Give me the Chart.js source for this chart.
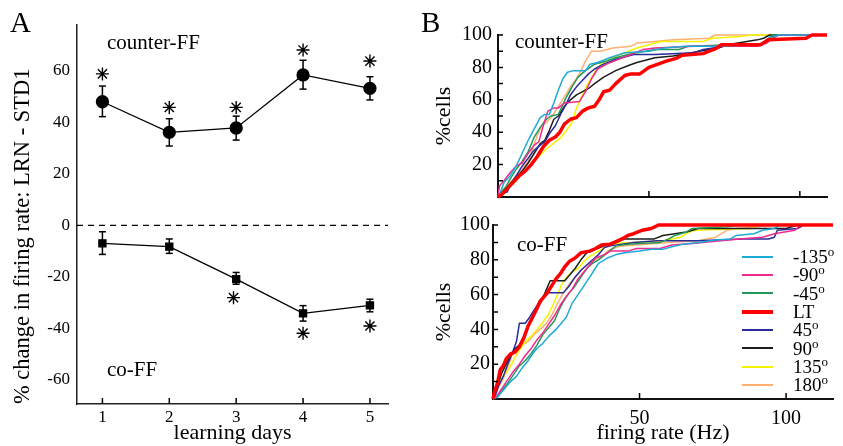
<!DOCTYPE html>
<html><head><meta charset="utf-8">
<script src="https://cdn.jsdelivr.net/npm/chart.js@4.4.1/dist/chart.umd.min.js"></script>
<style>
html,body{margin:0;padding:0;background:#fff;}
#wrap{position:relative;width:843px;height:446px;overflow:hidden;font-family:'Liberation Serif','Times New Roman',serif;color:#000;background:#fff;}
canvas{position:absolute;}
.lbl{position:absolute;white-space:nowrap;line-height:1;}
.legl{position:absolute;left:742px;width:31px;height:0;}
.legt{position:absolute;left:793px;font-size:19px;line-height:1;white-space:nowrap;}
.legt span{font-size:13px;position:relative;top:-7px;}
</style></head><body>
<div id="wrap">
<canvas id="cA" width="420" height="446" style="left:0;top:0"></canvas>
<canvas id="cB1" width="423" height="215" style="left:420px;top:0"></canvas>
<canvas id="cB2" width="423" height="246" style="left:420px;top:200px"></canvas>
<div class="lbl" style="left:10px;top:8px;font-size:29px">A</div>
<div class="lbl" style="left:421px;top:8px;font-size:29px">B</div>
<div class="lbl" style="left:107px;top:32px;font-size:21px">counter-FF</div>
<div class="lbl" style="left:107px;top:359px;font-size:21px">co-FF</div>
<div class="lbl" style="left:515px;top:31px;font-size:21px">counter-FF</div>
<div class="lbl" style="left:517px;top:234px;font-size:21px">co-FF</div>
<div id="legend"></div>
</div>
<script>
// ---------- Panel A data ----------
const days = [1, 2, 3, 4, 5];
const dayTicks = [1, 2, 3, 4, 5];
const pctTicksA = [-60, -40, -20, 0, 20, 40, 60];
const counterMean = [48.0, 36.1, 37.8, 58.4, 53.2];
const counterHi   = [54.1, 41.4, 42.4, 64.1, 57.7];
const counterLo   = [42.2, 30.8, 33.1, 52.9, 48.7];
const counterStar = [58.8, 45.8, 45.8, 68.1, 63.8];
const coMean = [-7.0, -8.3, -20.9, -34.2, -31.1];
const coHi   = [-2.5, -5.3, -18.3, -31.2, -28.7];
const coLo   = [-11.3, -10.9, -22.9, -37.2, -33.6];
const coStarDays = [2.96, 4, 5];
const coStar = [-28.1, -41.9, -39.1];

// ---------- Panel B data (firing rate Hz, % cells) ----------
const dirNames = ['-135', '-90', '-45', 'LT', '45', '90', '135', '180'];
const cdfYTicks = [10, 20, 30, 40, 50, 60, 70, 80, 90, 100];
const cdfYLabels = [20, 40, 60, 80, 100];
const hzTicks = [50, 100];

// counter-FF
const cfM135 = [[0,0],[1,4],[2,9],[4,13],[6,19],[8,27],[10,35],[12,42],[14,49],[15.5,51],[17,51],[18.5,58],[20,66],[21.5,73],[23,77],[25,78],[29,78],[30.5,82],[33,83],[37,86],[42,89],[50,90],[55,92],[62,93],[75,93],[85,94],[88,95],[90,98],[93,100],[109,100]];
const cfM90 = [[0,0],[0.5,7],[2,10],[4,15],[6,19],[8,21],[10,27],[12,32],[13.5,34],[15,44],[16.5,53],[18.5,55],[20,55],[22,58],[27,59],[29,65],[31,73],[33,79],[36,82],[40,85],[44,88],[48,91],[52,92],[65,93],[86,93],[89,95],[91,98],[93,100],[109,100]];
const cfM45 = [[0,0],[1,3],[2.5,6],[4,11],[6,17],[8,22],[10,28],[12,37],[14,43],[16,48],[17.5,50],[20,51],[21,55],[22.5,61],[24.5,68],[26.5,74],[29,78],[32,82],[36,84],[39,86],[43,88],[46,89],[52,91],[60,91],[63,93],[78,94],[87,94],[89,97],[91,100],[109,100]];
const cfLT = [[0,0],[1.5,2],[3,5],[5,9],[7,13],[9,16],[11,20],[13,25],[15,31],[17,35],[19,37],[20.5,40],[22,45],[24,48],[26,49],[28,53],[30,55],[32,56],[33.5,60],[35,65],[37,66],[39,70],[42,75],[44,76],[47,76],[50,80],[53,82],[56,84],[59,85.6],[61,87.5],[68,88.5],[70,90],[72,91.4],[74,94],[87,94],[89.5,97],[102,98],[104,100],[109,100]];
const cf45 = [[0,0],[1,2],[3,3],[4.5,9],[6,13],[8,19],[10,24],[12,29],[14,32],[15.5,34],[17,39],[19,44],[21,52],[22.5,57],[24,63],[26,68],[28,72],[30,76],[32,79],[35,82],[39,85],[45,88],[52,88],[65,89],[68,91],[75,93],[79,94],[87,94],[89,97],[92,100],[109,100]];
const cf90 = [[0,0],[1,2],[2.5,5],[4,8],[6,12],[8,16],[10,21],[12,27],[14,33],[15.5,35],[17,41],[18.5,48],[20,50],[22,56],[24,60],[26,63],[28,65],[30,67],[32,70],[35,74],[39,78],[43,81],[46,83],[52,86],[58,87],[64,89],[70,91],[73,92],[76,94],[86,97],[88,98],[90,100],[109,100]];
const cf135 = [[0,0],[1,3],[3,6],[5,8],[7,12],[9,16],[11,20],[13,24],[15,28],[17,31],[19,34],[21,37],[23,42],[24.5,46],[26,55],[27.5,61],[29,67],[31,74],[33,80],[35,83],[38,86],[42,89],[46,92],[50,94],[54,96],[68,96],[71,98],[80,99],[84,100],[109,100]];
const cf180 = [[0,0],[1,2],[2.5,6],[4,9],[6,13],[8,17],[10,22],[11.5,30],[13,38],[14.5,44],[16,46],[18,50],[20,56],[22,62],[24,68],[26,73],[27.5,78],[29,84],[31,90],[34,90],[38,92],[44,93],[46,95],[52,96],[58,97],[70,98],[72,100],[109,100]];

// co-FF
const coM135 = [[0,0],[1.5,1],[3,4],[4.5,7],[6,10],[8,13],[10,18],[12,22],[13.5,26],[15,29],[17,32],[19,36],[21.5,40],[23,43],[25,47],[27,55],[29,60],[31,65],[33,70],[34.5,74],[36,78],[39,81],[42,83],[45,84],[50,85],[54,86],[58,86],[61,87.5],[65,89],[70,90],[76,91.4],[81,92],[83,94],[89,95],[92,97],[96,98],[98,100],[116,100]];
const coM90 = [[0,0],[1.5,2],[3,6],[5,11],[7,16],[9,20],[11,25],[13,29],[15,34],[17,38],[19,43],[21,48],[23,54],[25,59],[27,63],[29,69],[31,73],[33,77],[35,81],[38,83],[40,85],[46,85],[49,86.5],[57,86.5],[61,88.5],[69,89.5],[75,90.5],[84,92],[92,93],[96,95],[103,97],[105,100],[116,100]];
const coM45 = [[0,0],[1.5,2],[3,5],[5,9],[7,14],[9,19],[11,22],[13,26],[15,31],[17,37],[19,41],[21,45],[22.5,51],[24,56],[26,61],[28,65],[30,70],[32,75],[34,78],[36,80],[39,84],[42,88],[46,89],[52,89.5],[57,90],[60,92],[62,94],[66,96],[68,98],[80,99],[85,100],[116,100]];
const coLT = [[0,0],[0.5,4],[1.5,9],[2.5,17],[3.5,19],[4.5,23],[6,26],[7.5,27],[9,30],[10.5,35],[12,42],[13.5,47],[15,52],[16,56],[17.5,59],[18.5,61],[20,65],[21.5,69],[23,72],[24.5,76],[26,79],[28,81],[30,84],[33,85],[35,86.5],[37,88.5],[40,89],[42,90.5],[44,92],[46,94],[48,95],[51,97],[54,98],[56.5,100],[116,100]];
const co45 = [[0,0],[1,3],[2,8],[3.5,13],[5,20],[6.5,26],[8,33],[9,43.5],[11,43.5],[12.5,47],[14,51],[15.5,55],[17,58],[19,61],[24,61],[26,65],[28,70],[30,74],[32,77],[34,80],[36,83],[38,87],[40,88],[48,90],[56,91],[70,91],[85,92],[94,92],[96,93],[97,97],[104,98],[106,100],[116,100]];
const co90 = [[0,0],[1,4],[2,10],[3,15],[4.5,20],[6,25],[7.5,29],[9,31],[10.5,36],[12,42],[13.5,47],[15,52],[16.5,56],[18,62],[19.5,68],[24.5,68],[26,71],[28,75],[30,80],[32,84],[35,86],[38,88],[42,90],[45,92],[55,92],[58,94],[62,95],[66,96],[70,98],[100,98],[104,100],[116,100]];
const co135 = [[0,0],[0.5,5],[1.5,8],[3,12],[4.5,15],[6,19],[7.5,24],[9,28],[11,33],[13,36],[15,40],[17,44],[19,49],[20.5,54],[22,60],[23.5,66],[25,70],[27,73],[29,75],[31,79],[33,82],[36,85],[38,87],[42,89.5],[48,90],[58,91],[64,93],[67,96],[69,97],[88,98],[90,100],[116,100]];
const co180 = [[0,0],[1,3],[2,7],[3.5,12],[5,18],[6.5,25],[8,28],[10,31],[12,33],[14,37],[16,40],[18,43],[20,48],[22,55],[24,61],[26,66],[28,70],[30,74],[32,77],[34,79],[37,82],[40,86],[44,88],[52,89],[60,90],[70,91],[76,93],[78,95],[80,97],[83,98],[90,99],[95,100],[116,100]];

// ---------- styling ----------
const dirColors = ['#1eaad6', '#f02a8e', '#24985a', '#ff0000', '#2b2b98', '#1c1c1c', '#f4f400', '#ffb070'];
const FONT = "'Liberation Serif', 'Times New Roman', serif";
Chart.defaults.font.family = FONT;
Chart.defaults.color = '#000';

const innerTicks = {
  id: 'innerTicks',
  afterDatasetsDraw(chart, args, o) {
    const {ctx, chartArea: a, scales: {x, y}} = chart;
    ctx.save();
    ctx.strokeStyle = o.color || '#000';
    ctx.lineWidth = o.width || 1.5;
    ctx.beginPath();
    if (o.y) y.ticks.forEach(t => { const p = y.getPixelForValue(t.value); ctx.moveTo(a.left, p); ctx.lineTo(a.left + o.y, p); });
    if (o.x) x.ticks.forEach(t => { const p = x.getPixelForValue(t.value); ctx.moveTo(p, a.bottom); ctx.lineTo(p, a.bottom - o.x); });
    ctx.stroke();
    ctx.restore();
  }
};

// ---------- Panel A ----------
function errorData(lo, hi) {
  const out = [];
  days.forEach((d, i) => { out.push({x: d, y: lo[i]}, {x: d, y: hi[i]}, {x: d, y: null}); });
  return out;
}
const aX = [0.62, 5.27];
const aY = [-69.4, 77.8];

new Chart(document.getElementById('cA'), {
  type: 'scatter',
  data: {
    datasets: [
      {data: days.map((d, i) => ({x: d, y: counterMean[i]})), showLine: true, borderColor: '#000', borderWidth: 1.3,
       pointStyle: 'circle', pointRadius: 6, pointBackgroundColor: '#000', pointBorderColor: '#000', order: 0},
      {data: days.map((d, i) => ({x: d, y: coMean[i]})), showLine: true, borderColor: '#000', borderWidth: 1.3,
       pointStyle: 'rect', pointRadius: 5, pointBackgroundColor: '#000', pointBorderColor: '#000', order: 0},
      {data: errorData(counterLo, counterHi), showLine: true, spanGaps: false, borderColor: '#000', borderWidth: 1.5,
       pointStyle: 'line', pointRadius: 3.5, pointBorderWidth: 1.5, pointBorderColor: '#000', order: 1},
      {data: errorData(coLo, coHi), showLine: true, spanGaps: false, borderColor: '#000', borderWidth: 1.5,
       pointStyle: 'line', pointRadius: 3.5, pointBorderWidth: 1.5, pointBorderColor: '#000', order: 1},
      {data: days.map((d, i) => ({x: d, y: counterStar[i]})), pointStyle: 'star', pointRadius: 6.5,
       pointBorderWidth: 1.4, pointBorderColor: '#000', order: 0},
      {data: coStarDays.map((d, i) => ({x: d, y: coStar[i]})), pointStyle: 'star', pointRadius: 6.5,
       pointBorderWidth: 1.4, pointBorderColor: '#000', order: 0},
      {data: [{x: aX[0], y: 0}, {x: aX[1], y: 0}], showLine: true, borderColor: '#000', borderWidth: 1.2,
       borderDash: [6, 5], pointRadius: 0, order: 2}
    ]
  },
  options: {
    responsive: false, animation: false, devicePixelRatio: 1,
    layout: {padding: {left: 0, right: 32, top: 25, bottom: 0}},
    plugins: {legend: {display: false}, tooltip: {enabled: false}, innerTicks: {x: 6, y: 0, width: 1.5}},
    elements: {line: {tension: 0}},
    scales: {
      x: {type: 'linear', min: aX[0], max: aX[1],
          grid: {display: false, drawTicks: false, tickLength: 0},
          border: {display: true, color: '#222', width: 1.5},
          afterBuildTicks: s => { s.ticks = dayTicks.map(v => ({value: v})); },
          ticks: {font: {size: 17}, padding: 3, color: '#000', autoSkip: false},
          title: {display: true, text: 'learning days', font: {size: 22}, padding: {top: 0, bottom: 0}, color: '#000'},
          afterFit: s => { s.height = 42; }},
      y: {type: 'linear', min: aY[0], max: aY[1],
          grid: {display: false, drawTicks: false, tickLength: 0},
          border: {display: true, color: '#222', width: 1.5},
          afterBuildTicks: s => { s.ticks = pctTicksA.map(v => ({value: v})); },
          ticks: {font: {size: 17}, padding: 7, color: '#000', autoSkip: false},
          title: {display: true, text: '% change in firing rate: LRN - STD1', font: {size: 22.5}, padding: {top: 10, bottom: 0}, align: 'start', color: '#000'},
          afterFit: s => { s.width = 77; }}
    }
  },
  plugins: [innerTicks]
});

// ---------- Panel B ----------
function cdfSets(curves) {
  return curves.map((c, i) => ({
    label: dirNames[i],
    data: c.map(([x, y]) => ({x, y})),
    showLine: true, borderColor: dirColors[i], borderWidth: dirNames[i] === 'LT' ? 3.5 : 1.5,
    pointRadius: 0, tension: 0, borderJoinStyle: 'round', clip: false,
    order: dirNames[i] === 'LT' ? -1 : i
  }));
}
function cdfOptions(o) {
  return {
    responsive: false, animation: false, devicePixelRatio: 1,
    layout: {padding: {left: 0, right: o.padRight, top: o.padTop, bottom: 0}},
    plugins: {legend: {display: false}, tooltip: {enabled: false}, innerTicks: {x: 6, y: 5, width: 1.5}},
    scales: {
      x: {type: 'linear', min: 0, max: o.xMax,
          grid: {display: false, drawTicks: false, tickLength: 0},
          border: {display: true, color: '#111', width: 2},
          afterBuildTicks: s => { s.ticks = hzTicks.map(v => ({value: v})); },
          ticks: {display: o.showX, font: {size: 20}, padding: 8, color: '#000', autoSkip: false},
          title: {display: o.showX, text: 'firing rate (Hz)', font: {size: 22}, padding: {top: 0, bottom: 0}, color: '#000'},
          afterFit: s => { s.height = o.xHeight; }},
      y: {type: 'linear', min: 0, max: 100,
          grid: {display: false, drawTicks: false, tickLength: 0},
          border: {display: true, color: '#111', width: 2},
          afterBuildTicks: s => { s.ticks = cdfYTicks.map(v => ({value: v})); },
          ticks: {font: {size: 20}, padding: o.yPad, color: '#000', autoSkip: false,
                  callback: v => cdfYLabels.includes(v) ? String(v) : ''},
          title: {display: true, text: '%cells', font: {size: 22}, padding: {top: 11, bottom: 0}, color: '#000'},
          afterFit: s => { s.width = o.yWidth; }}
    }
  };
}

new Chart(document.getElementById('cB1'), {
  type: 'scatter',
  data: {datasets: cdfSets([cfM135, cfM90, cfM45, cfLT, cf45, cf90, cf135, cf180])},
  options: cdfOptions({padRight: 16, padTop: 35, xMax: 109, xHeight: 6, yWidth: 78, yPad: 6, showX: false}),
  plugins: [innerTicks]
});

new Chart(document.getElementById('cB2'), {
  type: 'scatter',
  data: {datasets: cdfSets([coM135, coM90, coM45, coLT, co45, co90, co135, co180])},
  options: cdfOptions({padRight: 10, padTop: 25, xMax: 116, xHeight: 47, yWidth: 73, yPad: 3, showX: true}),
  plugins: [innerTicks]
});

// ---------- legend (HTML) ----------
const leg = document.getElementById('legend');
dirNames.forEach((n, i) => {
  const cy = 256.7 + 18.33 * i;
  const w = n === 'LT' ? 4 : 2;
  const l = document.createElement('div');
  l.className = 'legl';
  l.style.top = (cy - w / 2) + 'px';
  l.style.borderTop = w + 'px solid ' + dirColors[i];
  leg.appendChild(l);
  const t = document.createElement('div');
  t.className = 'legt';
  t.style.top = (cy - 9.6) + 'px';
  t.innerHTML = n === 'LT' ? n : n + '<span>o</span>';
  leg.appendChild(t);
});
</script>
</body></html>
